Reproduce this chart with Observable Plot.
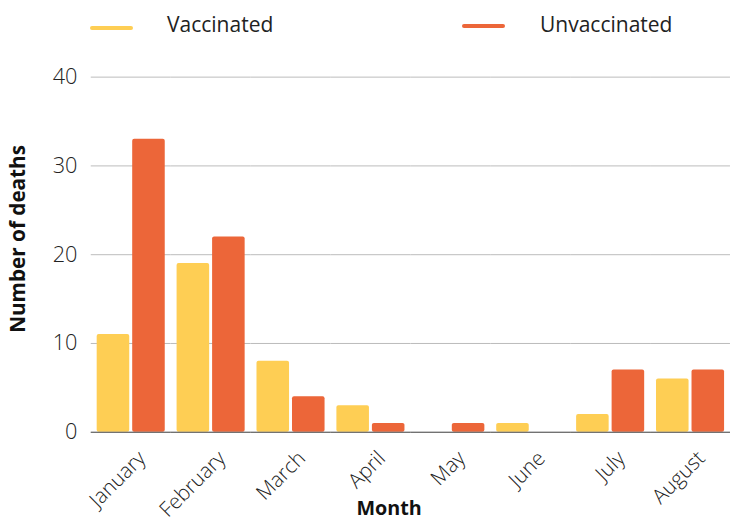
<!DOCTYPE html>
<html><head><meta charset="utf-8">
<script src="https://cdn.jsdelivr.net/npm/d3@7"></script>
<script src="https://cdn.jsdelivr.net/npm/@observablehq/plot@0.6"></script>
<style>
body{margin:0;background:#fff;font-family:"Open Sans",sans-serif;overflow:hidden;width:730px;height:521px;}
#legend{position:relative;height:50px;}
.sw{position:absolute;width:43px;height:4px;border-radius:2px;}
.lt{position:absolute;top:11px;font-size:21px;color:#222;line-height:26px;white-space:nowrap;}
#chart svg{display:block;}
</style></head><body>
<div id="legend"></div>
<div id="chart"></div>
<script>
const months = ["January","February","March","April","May","June","July","August"];
const series = ["Vaccinated","Unvaccinated"];
const vaccinated = [11,19,8,3,0,1,2,6];
const unvaccinated = [33,22,4,1,1,0,7,7];
const colors = ["#FECE54","#EC6639"];
const yTicks = [0,10,20,30,40];

const data = months.flatMap((m,i)=>[
  {month:m, series:series[0], deaths:vaccinated[i]},
  {month:m, series:series[1], deaths:unvaccinated[i]}
]);

// legend
const legend = document.getElementById("legend");
const legendPos = [[90,26,167],[462,24,540]];
series.forEach((s,i)=>{
  const sw = document.createElement("div");
  sw.className="sw"; sw.style.left=legendPos[i][0]+"px"; sw.style.top=legendPos[i][1]+"px"; sw.style.background=colors[i];
  const t = document.createElement("div");
  t.className="lt"; t.style.left=legendPos[i][2]+"px"; t.textContent=s;
  legend.append(sw,t);
});

const chart = Plot.plot({
  width: 740, height: 471,
  marginLeft: 92, marginRight: 0, marginTop: 27, marginBottom: 84,
  style: {fontFamily:"Open Sans", fontSize:"19px", color:"#333", background:"transparent", overflow:"visible"},
  fx: {domain: months, padding: 0, label: "Month", axis: null},
  x: {domain: series, paddingInner: 0.08, paddingOuter: 0.135, axis: null},
  y: {domain: [0,40], label: "Number of deaths"},
  color: {domain: series, range: colors},
  marks: [
    Plot.gridY(yTicks, {stroke:"#bbb", strokeOpacity:1}),
    Plot.barY(data, {fx:"month", x:"series", y:"deaths", fill:"series", rx:2}),
    Plot.ruleY([0], {stroke:"#555", strokeWidth:1.2}),
    Plot.axisY(yTicks, {tickSize:0, tickPadding:14, fontSize:22, fontWeight:300, fill:"#222", label:"Number of deaths", labelAnchor:"center", labelOffset:82, labelArrow:false}),
    Plot.axisFx({anchor:"bottom", tickSize:0, tickPadding:23, tickRotate:-45, fontSize:21, fontWeight:300, fill:"#222", dx:11, label:"Month", labelAnchor:"center", labelOffset:84})
  ]
});
document.getElementById("chart").append(chart);

const svg = d3.select(chart);
svg.selectAll('[aria-label$="axis label"] text').attr("font-weight","bold").attr("fill","#111");
svg.selectAll('[aria-label="y-axis label"] text').attr("font-size", 21);
svg.selectAll('[aria-label="fx-axis label"] text').attr("font-size", 20);
const shift = (sel, dx, dy) => sel.each(function(){
  const t = this.getAttribute("transform") || "";
  this.setAttribute("transform", `translate(${dx},${dy}) ` + t);
});
shift(svg.selectAll('[aria-label="y-axis label"]'), 0, -16);
shift(svg.selectAll('[aria-label="fx-axis label"]'), -22, 0);
</script>
</body></html>
